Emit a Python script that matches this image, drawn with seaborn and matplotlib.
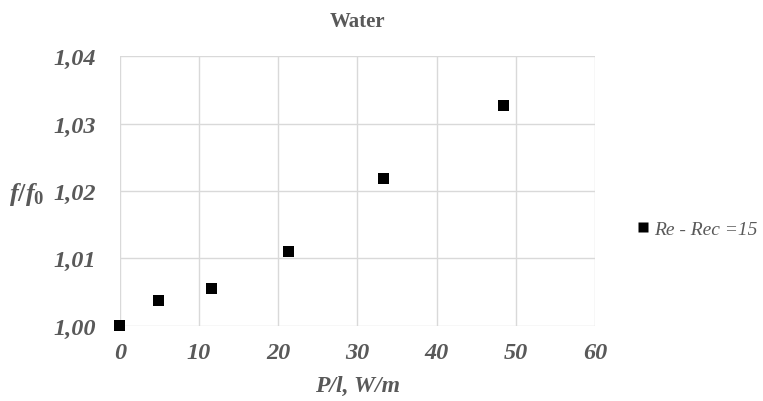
import matplotlib
matplotlib.use('Agg')
from matplotlib import pyplot as plt
from matplotlib.ticker import FuncFormatter
import pandas as pd
import seaborn as sns

power = [0.0, 4.9, 11.6, 21.3, 33.3, 48.4]
f_ratio = [1.0000, 1.0037, 1.0055, 1.0110, 1.0218, 1.0327]
series = 'Re - Rec =15'

df = pd.DataFrame({'P': power, 'f': f_ratio, 'Series': series})

sns.set_theme(style='whitegrid')
plt.rcParams['font.family'] = ['Liberation Serif', 'DejaVu Serif']
plt.rcParams['mathtext.fontset'] = 'custom'
plt.rcParams['mathtext.it'] = 'Liberation Serif:italic:bold'
plt.rcParams['mathtext.rm'] = 'Liberation Serif:bold'

grey = '#595959'
fig = plt.figure(figsize=(7.63, 4.02), dpi=100)
ax = fig.add_axes([0.157, 0.187, 0.623, 0.671])
sns.scatterplot(ax=ax, data=df, x='P', y='f', hue='Series', palette=['black'],
                marker='s', s=60, edgecolor='none', clip_on=False, zorder=3)

ax.set_xlim(0, 60)
ax.set_ylim(1.0, 1.04)
ax.set_xticks(range(0, 61, 10))
ax.set_yticks([1.00, 1.01, 1.02, 1.03, 1.04])
ax.yaxis.set_major_formatter(FuncFormatter(lambda v, p: f'{v:.2f}'.replace('.', ',')))
for s in ax.spines.values():
    s.set_visible(False)
ax.grid(True, color='#d9d9d9', linewidth=1)
ax.tick_params(axis='both', length=0, labelsize=17.5, labelcolor=grey)
ax.tick_params(axis='y', pad=17)
ax.tick_params(axis='x', pad=12)
for lab in ax.get_xticklabels() + ax.get_yticklabels():
    lab.set_fontstyle('italic')
    lab.set_fontweight('bold')

ax.set_xlabel('P/l, W/m', fontsize=17, color=grey, style='italic', fontweight='bold', labelpad=8)
ax.set_ylabel(r'$f/f_\mathit{0}$', fontsize=19, color=grey, rotation=0, ha='center', va='center')
ax.yaxis.set_label_coords(-0.196, 0.49)
ax.set_title('Water', fontsize=15, color=grey, fontweight='bold', pad=22)

leg = ax.legend(loc='center left', bbox_to_anchor=(1.08, 0.36), frameon=False,
                fontsize=14, handletextpad=0.1, handlelength=1.0, markerscale=0.85,
                borderpad=0, borderaxespad=0)
for t in leg.get_texts():
    t.set_color(grey)
    t.set_fontstyle('italic')

fig.savefig('out.png', dpi=100)
